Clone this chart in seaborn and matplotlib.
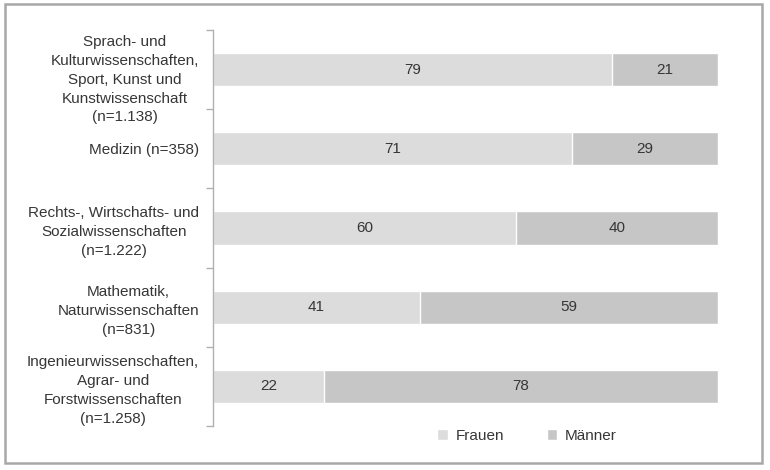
import numpy as np
import pandas as pd
import seaborn as sns
import matplotlib.pyplot as plt
import matplotlib.transforms as mtransforms
from matplotlib.patches import Rectangle, Patch

categories = [
    "Sprach- und\nKulturwissenschaften,\nSport, Kunst und\nKunstwissenschaft\n(n=1.138)",
    "Medizin (n=358)",
    "Rechts-, Wirtschafts- und\nSozialwissenschaften\n(n=1.222)",
    "Mathematik,\nNaturwissenschaften\n(n=831)",
    "Ingenieurwissenschaften,\nAgrar- und\nForstwissenschaften\n(n=1.258)",
]
frauen = [79, 71, 60, 41, 22]
maenner = [21, 29, 40, 59, 78]

col_f = "#dcdcdc"
col_m = "#c6c6c6"
txt = "#363636"

sns.set_style("white")
plt.rcParams["font.family"] = ["Liberation Sans", "DejaVu Sans"]

df = pd.DataFrame({"cat": categories, "Frauen": frauen, "Männer": maenner})
df["total"] = df["Frauen"] + df["Männer"]

fig = plt.figure(figsize=(7.7, 4.7), dpi=100)
ax = fig.add_axes([213 / 770, 1 - 426 / 470, (718 - 213) / 770, (426 - 30) / 470])

sns.barplot(data=df, y="cat", x="total", color=col_m, orient="h", width=0.42,
            saturation=1, ax=ax)
sns.barplot(data=df, y="cat", x="Frauen", color=col_f, orient="h", width=0.42,
            saturation=1, ax=ax)

# labels in the middle of each segment
for i, (f, m) in enumerate(zip(frauen, maenner)):
    ax.text(f / 2, i, str(f), ha="center", va="center", fontsize=11, color=txt)
    ax.text(f + m / 2, i, str(m), ha="center", va="center", fontsize=11, color=txt)

ax.set_xlim(0, 100)
ax.set_ylim(len(categories) - 0.5, -0.5)
ax.set_xlabel("")
ax.set_ylabel("")
ax.set_xticks([])
ax.set_yticks(range(len(categories)))
ax.set_yticklabels(categories, fontsize=11, color=txt, ha="right",
                   multialignment="center", linespacing=1.45)
ax.set_yticks(np.arange(-0.5, len(categories)), minor=True)
ax.tick_params(axis="y", which="major", length=0, pad=10)
ax.tick_params(axis="y", which="minor", length=5, color="#b0b0b0", width=1, left=True)
for s in ["top", "right", "bottom"]:
    ax.spines[s].set_visible(False)
ax.spines["left"].set_color("#b0b0b0")
ax.spines["left"].set_linewidth(1)

# first label sits a bit lower in the original
lab0 = ax.get_yticklabels()[0]
lab0.set_transform(lab0.get_transform() + mtransforms.ScaledTranslation(0, -0.06, fig.dpi_scale_trans))

handles = [Patch(facecolor=col_f, label="Frauen"), Patch(facecolor=col_m, label="Männer")]
fig.legend(handles=handles, loc="center", bbox_to_anchor=(527 / 770, 1 - 436 / 470),
           ncol=2, frameon=False, fontsize=11, handlelength=0.7, handleheight=0.7,
           handletextpad=0.5, columnspacing=2.8, labelcolor=txt)

fig.patches.append(Rectangle((5 / 770, 7 / 470), 757 / 770, 459 / 470, transform=fig.transFigure,
                             fill=False, edgecolor="#a8a8a8", linewidth=1.8))

fig.savefig("out.png", dpi=100)
